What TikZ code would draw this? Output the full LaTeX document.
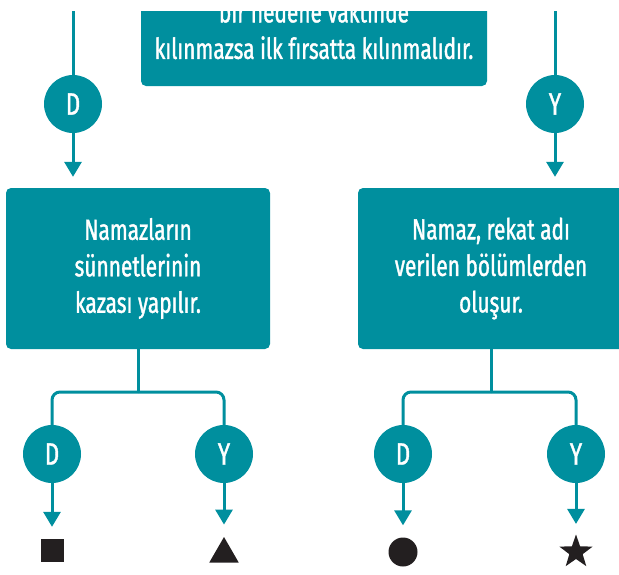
\documentclass[tikz,border=0pt]{standalone}
\usepackage{fontspec}
\setmainfont[FakeStretch=0.72,FakeBold=1.2]{Fira Sans}
\usetikzlibrary{arrows.meta,shapes.geometric}
\definecolor{teal}{RGB}{0,143,158}
\definecolor{ink}{RGB}{35,31,32}
\begin{document}
\begin{tikzpicture}[x=1pt,y=-1pt,
  box/.style={draw=none,fill=teal,rounded corners=5pt,text=white,align=center,
    font=\fontsize{29}{36.5}\selectfont,inner sep=0pt},
  ans/.style={circle,fill=teal,text=white,minimum size=58pt,inner sep=0pt,
    font=\fontsize{31}{34}\selectfont},
  conn/.style={draw=teal,line width=3pt},
  arr/.style={conn,-{Triangle[width=17pt,length=15pt]}},
  sym/.style={fill=ink,draw=none,inner sep=0pt}
]
\useasboundingbox (0,0) rectangle (619,574);
\begin{scope}
\clip (0,11) rectangle (619,574);
% top box
\node[box,minimum width=346pt,minimum height=113pt] (T) at (314,29.5)
  {bir nedene vaktinde\\kılınmazsa ilk fırsatta kılınmalıdır.};
% top circles
\coordinate (tl) at (73,0);
\coordinate (tr) at (555,0);
\node[ans] (D0) at (73,104) {D};
\node[ans] (Y0) at (555,104) {Y};
% boxes
\node[box,minimum width=264pt,minimum height=161pt] (L) at (138,268.5)
  {Namazların\\sünnetlerinin\\kazası yapılır.};
\node[box,minimum width=266pt,minimum height=161pt] (R) at (491,268.5)
  {Namaz, rekat adı\\verilen bölümlerden\\oluşur.};
\draw[conn] (tl) -- (D0.north);
\draw[conn] (tr) -- (Y0.north);
\draw[arr] (D0.south) -- ([yshift=11pt]D0.south |- L.north);
\draw[arr] (Y0.south) -- ([yshift=11pt]Y0.south |- R.north);
% bottom circles
\node[ans] (D1) at (52,454) {D};
\node[ans] (Y1) at (224,454) {Y};
\node[ans] (D2) at (403,454) {D};
\node[ans] (Y2) at (576,454) {Y};
\coordinate (jL) at (138,392);
\coordinate (jR) at (491,392);
\draw[conn] (L.south) -- (jL);
\draw[conn,rounded corners=8pt] (jL) -| (D1.north);
\draw[conn,rounded corners=8pt] (jL) -| (Y1.north);
\draw[conn] (R.south) -- (jR);
\draw[conn,rounded corners=8pt] (jR) -| (D2.north);
\draw[conn,rounded corners=8pt] (jR) -| (Y2.north);
% symbols
\node[sym,rectangle,minimum size=23pt] (s1) at (52,550.5) {};
\node[sym,regular polygon,regular polygon sides=3,minimum size=34pt] (s2) at (224,554) {};
\node[sym,circle,minimum size=29pt] (s3) at (403,552) {};
\node[sym,star,star points=5,star point ratio=2.5,minimum size=35pt] (s4) at (576,552) {};
\draw[arr] (D1.south) -- ([yshift=12pt]D1.south |- s1.north);
\draw[arr] (Y1.south) -- ([yshift=12pt]Y1.south |- s2.north);
\draw[arr] (D2.south) -- ([yshift=12pt]D2.south |- s3.north);
\draw[arr] (Y2.south) -- ([yshift=10pt]Y2.south |- s4.north);
\end{scope}
\end{tikzpicture}
\end{document}
